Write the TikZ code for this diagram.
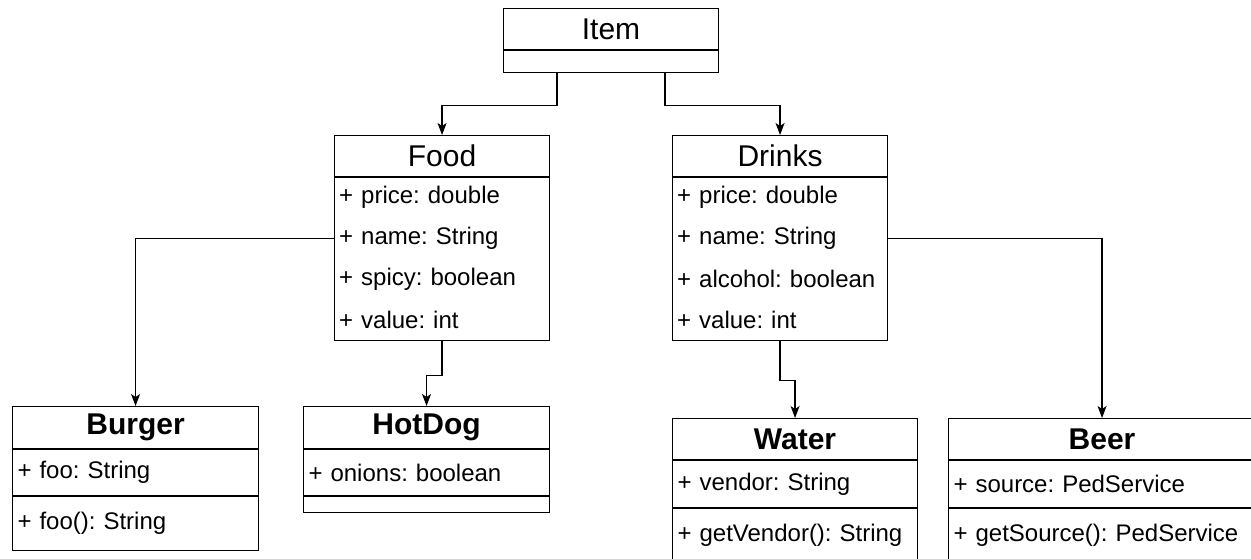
\documentclass[tikz,border=0pt]{standalone}
\usepackage{fontspec}
\setmainfont{Liberation Sans}
\usetikzlibrary{arrows.meta,calc}
\frenchspacing

\tikzset{
  head/.style={draw, line width=1.1pt, anchor=north west, inner sep=0pt,
    minimum height=41pt, font=\fontsize{30}{30}\selectfont},
  boldhead/.style={head, font=\fontsize{30}{30}\selectfont\bfseries},
  part/.style={draw, line width=1.1pt, anchor=north west, inner xsep=5pt,
    inner ysep=0pt, align=left, text width=#1, font=\fontsize{24}{28}\selectfont},
  row/.style={anchor=west, inner xsep=5pt, inner ysep=0pt, align=left,
    text width=#1, font=\fontsize{24}{28}\selectfont},
  conn/.style={line width=1.2pt, -{Stealth[length=12pt,width=9pt,inset=3pt]}}
}

\begin{document}
\begin{tikzpicture}[x=1pt, y=-1pt]
  \useasboundingbox (0,0) rectangle (1251,558);
  \clip (0,0) rectangle (1251,558);

  % Item
  \node[head, minimum width=215pt] (item) at (503,8) {Item};
  \node[part=205pt, minimum height=22pt] (itembody) at (item.south west) {};

  % Food
  \node[head, minimum width=215pt] (food) at (334,135) {Food};
  \node[part=205pt, minimum height=163pt] (foodbody) at (food.south west) {};
  \foreach \t [count=\i] in {price: double, name: String, spicy: boolean, value: int}
    \node[row=205pt] (food\i) at ($(foodbody.north west)+(0,40.75*\i-20.375)$) {+ \t};

  % Drinks
  \node[head, minimum width=215pt] (drinks) at (672,135) {Drinks};
  \node[part=205pt, minimum height=163pt] (drinksbody) at (drinks.south west) {};
  \foreach \t [count=\i] in {price: double, name: String, alcohol: boolean, value: int}
    \node[row=205pt] (drinks\i) at ($(drinksbody.north west)+(0,40.75*\i-20.375)$) {+ \t};

  % Burger
  \node[boldhead, minimum width=246pt, minimum height=42pt] (burger) at (12,406) {Burger};
  \node[part=236pt, minimum height=46pt] (burgerattr) at (burger.south west) {+ foo: String};
  \node[part=236pt, minimum height=54pt] (burgerop) at (burgerattr.south west) {+ foo(): String};

  % HotDog
  \node[boldhead, minimum width=246pt, minimum height=42pt] (hotdog) at (303,406) {HotDog};
  \node[part=236pt, minimum height=46pt] (hotdogattr) at (hotdog.south west) {+ onions: boolean};
  \node[part=236pt, minimum height=16pt] (hotdogop) at (hotdogattr.south west) {};

  % Water
  \node[boldhead, minimum width=245pt] (water) at (672,418) {Water};
  \node[part=235pt, minimum height=47pt] (waterattr) at (water.south west) {+ vendor: String};
  \node[part=235pt, minimum height=54pt] (waterop) at (waterattr.south west) {+ getVendor(): String};

  % Beer
  \node[boldhead, minimum width=307pt] (beer) at (948,418) {Beer};
  \node[part=297pt, minimum height=47pt] (beerattr) at (beer.south west) {+ source: PedService};
  \node[part=297pt, minimum height=54pt] (beerop) at (beerattr.south west) {+ getSource(): PedService};

  % connectors
  \draw[conn] ($(itembody.south west)!.25!(itembody.south east)$) -- ++(0,32) -| (food.north);
  \draw[conn] ($(itembody.south west)!.75!(itembody.south east)$) -- ++(0,32) -| (drinks.north);
  \draw[conn] (food2.west) -| (burger.north);
  \draw[conn] (foodbody.south) -- ++(0,34) -| (hotdog.north);
  \draw[conn] (drinksbody.south) -- ++(0,39) -| (water.north);
  \draw[conn] (drinks2.east) -| (beer.north);
\end{tikzpicture}
\end{document}
